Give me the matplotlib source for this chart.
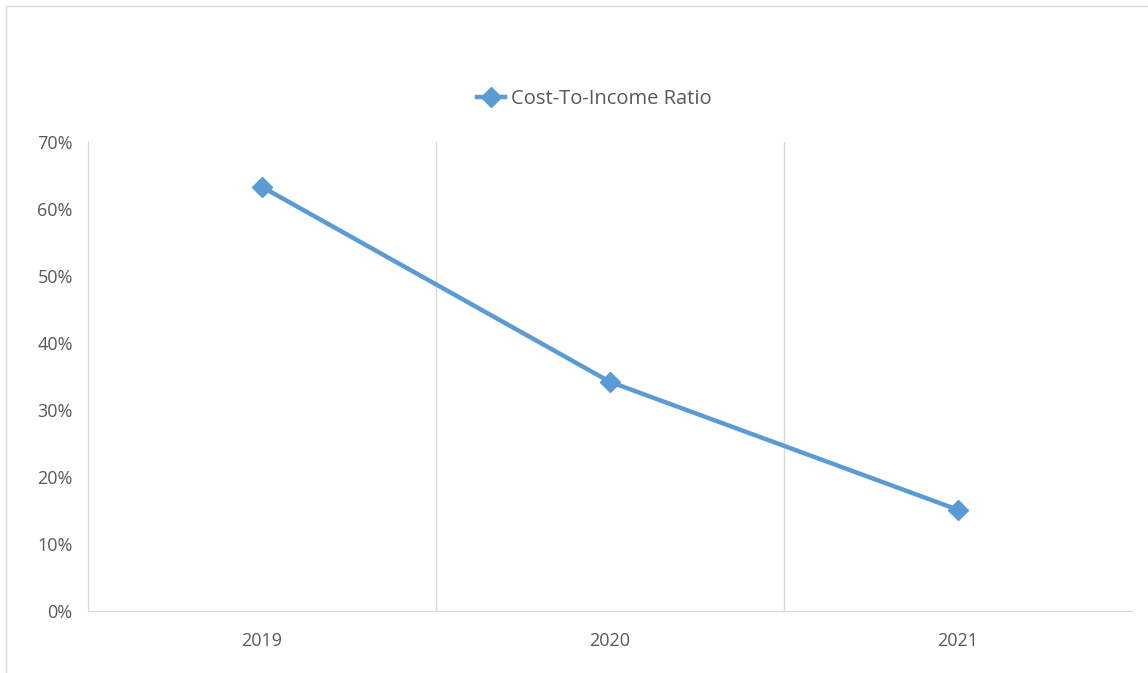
import matplotlib.pyplot as plt
from matplotlib.patches import Rectangle
from matplotlib.ticker import PercentFormatter

years = ['2019', '2020', '2021']
ratio = [63.3, 34.2, 15.1]

blue = '#5B9BD5'
grey_txt = '#595959'
grid_c = '#D9D9D9'

plt.rcParams['font.family'] = ['Open Sans', 'DejaVu Sans']

fig = plt.figure(figsize=(11.48, 6.73), dpi=100)
fig.patches.append(Rectangle((6 / 1148, -0.01), 1.02, 1 - 6 / 673 + 0.01,
                             transform=fig.transFigure, fill=False,
                             edgecolor='#D9D9D9', linewidth=1))
ax = fig.add_axes([88 / 1148, 62 / 673, 1044 / 1148, 469 / 673])

x = range(len(years))
ax.plot(x, ratio, color=blue, linewidth=3.2, marker='D', markersize=10,
        label='Cost-To-Income Ratio', zorder=3)

ax.set_xlim(-0.5, len(years) - 0.5)
ax.set_ylim(0, 70)
ax.set_yticks(range(0, 71, 10))
ax.yaxis.set_major_formatter(PercentFormatter(decimals=0))
ax.set_xticks(list(x))
ax.set_xticklabels(years)

for b in [0.5, 1.5]:
    ax.axvline(b, color=grid_c, linewidth=1, zorder=1)

for s in ['top', 'right']:
    ax.spines[s].set_visible(False)
ax.spines['left'].set_color(grid_c)
ax.spines['bottom'].set_color(grid_c)
ax.tick_params(length=0, colors=grey_txt, labelsize=13)
ax.tick_params(axis='x', pad=15)
ax.tick_params(axis='y', pad=11)

fig.legend(loc='center', bbox_to_anchor=(594 / 1148, 1 - 99 / 673),
           frameon=False, fontsize=14.5, labelcolor=grey_txt,
           handlelength=1.4, handletextpad=0.3)

fig.savefig('out.png', dpi=100)
